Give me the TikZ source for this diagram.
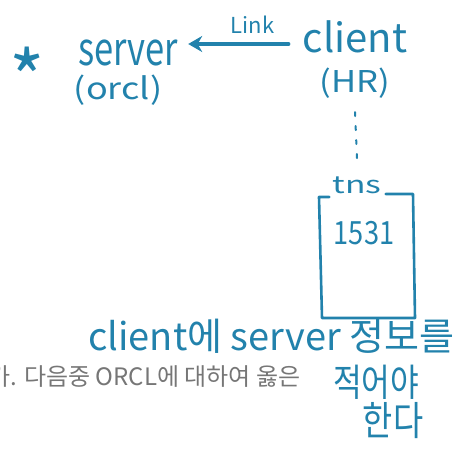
\documentclass[tikz,border=0pt]{standalone}
\usepackage{fontspec}
\setmainfont{Noto Sans CJK KR}
\usetikzlibrary{arrows.meta}
\definecolor{ink}{RGB}{34,130,172}
\definecolor{printed}{RGB}{118,118,118}
% #1 horizontal stretch, #2 font size, #3 text
\newcommand{\hw}[3]{\scalebox{#1}[1]{\fontsize{#2}{#2}\selectfont #3}}
\begin{document}
\begin{tikzpicture}[x=1pt,y=-1pt,
  hand/.style={text=ink, inner sep=0pt},
  pen/.style={draw=ink, line width=2.6pt, line cap=round, line join=round},
  dots/.style={draw=ink, line width=2pt, line cap=round, dash pattern=on 4pt off 10pt}]
\useasboundingbox (0,0) rectangle (458,449);
\clip (0,0) rectangle (458,449);

% server side
\node[hand, anchor=base] (star) at (27,108) {\hw{1}{76}{*}};
\node[hand, anchor=base] (server) at (128,66) {\hw{0.75}{46}{server}};
\node[hand, anchor=base] (orcl) at (118,100) {\hw{1.2}{30}{(orcl)}};

% client side
\node[hand, anchor=base] (client) at (355,53) {\hw{1}{40}{client}};
\node[hand, anchor=base] (hr) at (355,93) {\hw{1.15}{30}{(HR)}};

% link from client to server
\draw[pen, line width=3.6pt, -{Stealth[length=14pt,width=16pt]}]
  ([xshift=-14pt]client.west |- 0,44) -- ([xshift=10pt]server.east |- 0,44)
  node[pos=0.36, above=9pt, hand] (link) {\hw{1}{22}{Link}};

% tnsnames box
\node[hand, anchor=base] (tns) at (357,194) {\hw{1.4}{24}{tns}};
\node[hand, anchor=base] (port) at (364,245) {\hw{0.85}{32}{1531}};
\coordinate (tl) at (319,197);
\coordinate (tr) at (413,194);
\coordinate (br) at (415,318);
\coordinate (bl) at (322,318);
\draw[pen] ([xshift=-3pt]tns.west |- tl) -- (tl) -- (bl) -- (br) -- (tr)
  -- ([xshift=4pt]tns.east |- tr);

% dotted line from client to tns box
\draw[dots] ([yshift=-13pt]hr.south) -- ([yshift=19pt]tns.north);

% printed question text
\node[anchor=base west, inner sep=0pt, text=printed] (question) at (-12,385)
  {\hw{1}{24}{가. 다음중 ORCL에 대하여 옳은}};

% handwritten note
\node[hand, anchor=base west] (note1) at (88,350) {\hw{1}{38}{client에 server 정보를}};
\node[hand, anchor=base] (note2) at (376,396) {\hw{0.82}{38}{적어야}};
\node[hand, anchor=base] (note3) at (393,435) {\hw{0.82}{40}{한다}};
\end{tikzpicture}
\end{document}
